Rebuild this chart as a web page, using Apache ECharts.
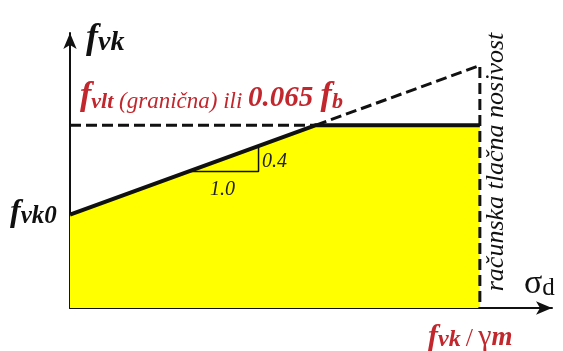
<!DOCTYPE html>
<html>
<head>
<meta charset="utf-8">
<script src="https://cdn.jsdelivr.net/npm/echarts@6/dist/echarts.min.js"></script>
<style>
  html, body { margin: 0; padding: 0; background: #fff; }
  #chart { width: 563px; height: 351px; }
</style>
</head>
<body>
<div id="chart"></div>
<script>
// shear strength envelope: f_vk = f_vk0 + 0.4 * sigma_d, capped by f_vlt
var sigma = [0, 0.6, 1.0];
var fvk = [0.25, 0.49, 0.49];
// dashed: limit line f_vlt, and the uncapped continuation down to f_vk/gamma_m
var limitX = [0, 0.6];
var limitY = [0.49, 0.49];
var beyondX = [0.6, 1.0, 1.0];
var beyondY = [0.49, 0.65, 0];
// slope triangle 1.0 : 0.4
var triX = [0.29, 0.46, 0.46];
var triY = [0.366, 0.366, 0.434];

var red = '#c1272d';
var serif = 'Liberation Serif';

function zip(xs, ys) {
  var out = [];
  for (var i = 0; i < xs.length; i++) out.push([xs[i], ys[i]]);
  return out;
}

// rich text piece
function tx(size, color, italic, bold, lh) {
  return {
    fontFamily: serif, fontSize: size, fill: color,
    fontStyle: italic ? 'italic' : 'normal',
    fontWeight: bold ? 'bold' : 'normal',
    lineHeight: lh, verticalAlign: 'bottom'
  };
}

var chart = echarts.init(document.getElementById('chart'));

var axisCommon = {
  type: 'value',
  min: 0,
  axisLine: {
    show: true,
    symbol: ['none', 'arrow'],
    symbolSize: [10, 16],
    lineStyle: { color: '#111', width: 2 }
  },
  axisTick: { show: false },
  axisLabel: { show: false },
  splitLine: { show: false }
};

var option = {
  animation: false,
  backgroundColor: '#fff',
  grid: { left: 70, right: 11, top: 33, bottom: 43 },
  xAxis: Object.assign({}, axisCommon, { max: 1.176 }),
  yAxis: Object.assign({}, axisCommon, { max: 0.737 }),
  series: [
    {
      type: 'line',
      data: zip(sigma, fvk),
      symbol: 'none',
      lineStyle: { color: '#111', width: 4 },
      areaStyle: { color: '#ffff00', opacity: 1 },
      z: 2
    },
    {
      type: 'line',
      data: zip(limitX, limitY),
      symbol: 'none',
      lineStyle: { color: '#111', width: 3, type: [11, 5] },
      z: 3
    },
    {
      type: 'line',
      data: zip(beyondX, beyondY),
      symbol: 'none',
      lineStyle: { color: '#111', width: 3, type: [11, 5] },
      z: 3
    },
    {
      type: 'line',
      data: zip(triX, triY),
      symbol: 'none',
      lineStyle: { color: '#111', width: 1.5 },
      z: 4
    }
  ],
  graphic: [
    {
      type: 'text', x: 86, y: 40, z: 20,
      style: {
        text: '{f|f}{s|vk}', verticalAlign: 'middle',
        rich: { f: tx(36, '#111', true, true, 34), s: tx(28, '#111', true, true, 26) }
      }
    },
    {
      type: 'text', x: 10, y: 214, z: 20,
      style: {
        text: '{f|f}{s|vk0}', verticalAlign: 'middle',
        rich: { f: tx(32, '#111', true, true, 30), s: tx(25, '#111', true, true, 22) }
      }
    },
    {
      type: 'text', x: 80, y: 113, z: 20,
      style: {
        text: '{f|f}{s|vlt}{c| (granična) ili }{d|0.065 }{f|f}{s|b}', verticalAlign: 'bottom',
        rich: {
          f: tx(34, red, true, true, 30),
          s: tx(22, red, true, true, 16),
          c: tx(23, red, true, false, 28),
          d: tx(29, red, true, true, 30)
        }
      }
    },
    {
      type: 'text', x: 262, y: 162, z: 20,
      style: { text: '0.4', fontFamily: serif, fontStyle: 'italic', fontSize: 20, fill: '#222', verticalAlign: 'middle' }
    },
    {
      type: 'text', x: 210, y: 190, z: 20,
      style: { text: '1.0', fontFamily: serif, fontStyle: 'italic', fontSize: 20, fill: '#222', verticalAlign: 'middle' }
    },
    {
      type: 'text', x: 496, y: 162, rotation: Math.PI / 2, z: 20,
      style: {
        text: 'računska tlačna nosivost', fontFamily: serif, fontStyle: 'italic', fontSize: 26, fill: '#111',
        align: 'center', verticalAlign: 'middle'
      }
    },
    {
      type: 'text', x: 524, y: 285, z: 20,
      style: {
        text: '{g|σ}{s|d}', verticalAlign: 'middle',
        rich: { g: tx(34, '#111', false, false, 32), s: tx(25, '#111', false, false, 24) }
      }
    },
    {
      type: 'text', x: 428, y: 338, z: 20,
      style: {
        text: '{f|f}{s|vk}{c|\u2009/\u2009}{g|γ}{m|m}', verticalAlign: 'middle',
        rich: {
          f: tx(30, red, true, true, 28),
          s: tx(24, red, true, true, 20),
          c: tx(26, red, false, false, 26),
          g: tx(30, red, false, false, 24),
          m: tx(27, red, true, true, 20)
        }
      }
    }
  ]
};

chart.setOption(option);
</script>
</body>
</html>
